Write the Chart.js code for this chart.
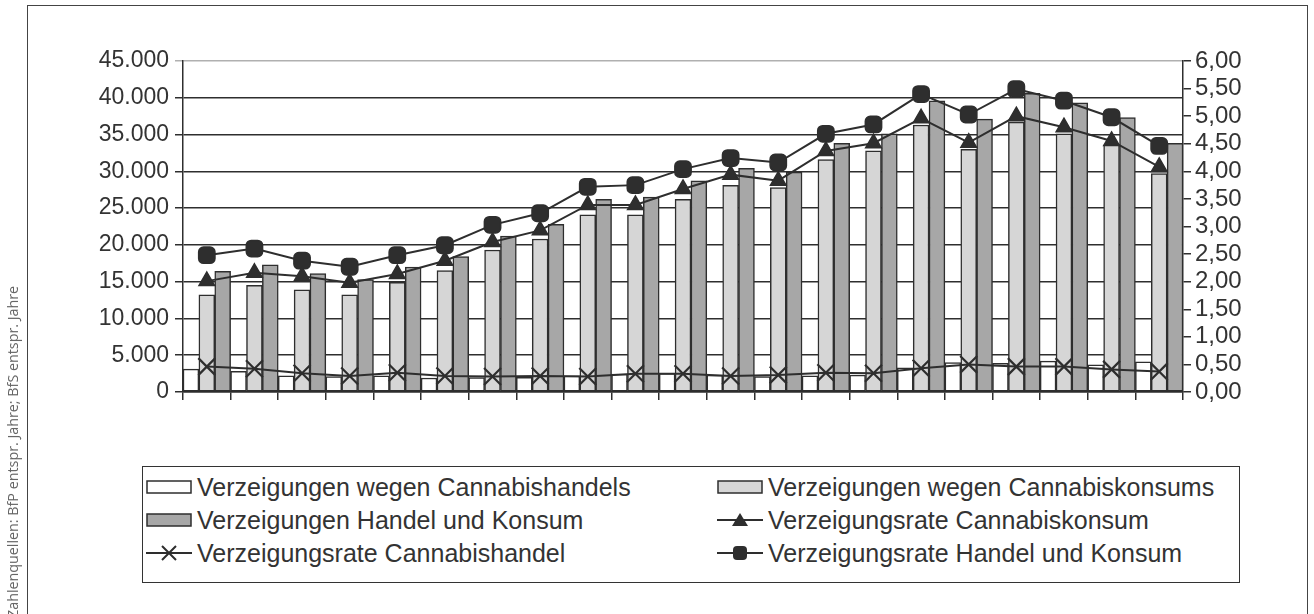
<!DOCTYPE html>
<html>
<head>
<meta charset="utf-8">
<script src="https://cdn.jsdelivr.net/npm/chart.js@4.4.1/dist/chart.umd.min.js"></script>
<style>
html,body{margin:0;padding:0;background:#fff;width:1314px;height:614px;overflow:hidden;position:relative;font-family:"Liberation Sans",Arial,sans-serif;}
#frame{position:absolute;left:27px;top:5px;width:1281px;height:640px;border:1.5px solid #444;box-sizing:border-box;}
#chart{position:absolute;left:0;top:0;}
#legend{position:absolute;left:142px;top:466px;width:1098px;height:117px;border:1.5px solid #333;box-sizing:border-box;background:#fff;}
.item{position:absolute;height:30px;display:flex;align-items:center;font-size:25px;color:#333;white-space:nowrap;}
.item svg{margin-right:5px;flex:none;}
#source{position:absolute;left:3px;top:618px;transform-origin:0 0;transform:rotate(-90deg);font-family:"Open Sans","Noto Sans",sans-serif;font-size:14.3px;line-height:19px;color:#666;white-space:nowrap;}
</style>
</head>
<body>
<div id="frame"></div>
<canvas id="chart" width="1314" height="614"></canvas>
<div id="legend"></div>
<div id="source">Zahlenquellen: BfP entspr. Jahre; BfS entspr. Jahre</div>
<script>
// ---- data ----
const categories = ['1','2','3','4','5','6','7','8','9','10','11','12','13','14','15','16','17','18','19','20','21'];
const handel  = [3100, 2800, 2200, 2100, 2200, 1900, 1950, 2000, 2200, 2450, 2550, 2300, 2100, 2200, 2300, 3300, 4000, 3900, 4200, 3700, 4100];
const konsum  = [13200, 14500, 13900, 13200, 14900, 16500, 19300, 20800, 24100, 24100, 26200, 28100, 27800, 31600, 32800, 36300, 33000, 36700, 35100, 33600, 29700];
const gesamt  = [16400, 17300, 16100, 15300, 17000, 18400, 21200, 22800, 26200, 26500, 28700, 30400, 29900, 33800, 35100, 39600, 37100, 40600, 39300, 37300, 33800];
const rateKonsum = [2.01, 2.16, 2.10, 1.98, 2.14, 2.38, 2.72, 2.93, 3.39, 3.39, 3.68, 3.94, 3.83, 4.37, 4.51, 4.96, 4.52, 5.00, 4.80, 4.55, 4.08];
const rateHandel = [0.46, 0.42, 0.34, 0.29, 0.35, 0.29, 0.28, 0.29, 0.28, 0.33, 0.33, 0.29, 0.31, 0.35, 0.34, 0.43, 0.50, 0.46, 0.46, 0.41, 0.37];
const rateGesamt = [2.48, 2.60, 2.38, 2.27, 2.48, 2.66, 3.03, 3.24, 3.72, 3.75, 4.04, 4.24, 4.16, 4.68, 4.85, 5.40, 5.03, 5.49, 5.28, 4.98, 4.46];
const leftTickLabels  = ['0','5.000','10.000','15.000','20.000','25.000','30.000','35.000','40.000','45.000'];
const rightTickLabels = ['0,00','0,50','1,00','1,50','2,00','2,50','3,00','3,50','4,00','4,50','5,00','5,50','6,00'];
const seriesNames = [
  'Verzeigungen wegen Cannabishandels',
  'Verzeigungen wegen Cannabiskonsums',
  'Verzeigungen Handel und Konsum',
  'Verzeigungsrate Cannabiskonsum',
  'Verzeigungsrate Cannabishandel',
  'Verzeigungsrate Handel und Konsum'
];

const INK = '#2e2e2e';
const FONT = {family:'"Liberation Sans", Arial, sans-serif', size:23};

const barBase = {type:'bar', yAxisID:'y', barPercentage:1, categoryPercentage:1, borderWidth:1.5, borderColor:INK, order:2, borderSkipped:false};
const lineBase = {type:'line', yAxisID:'y2', borderColor:INK, borderWidth:2, tension:0, order:1,
  pointBackgroundColor:INK, pointBorderColor:INK, pointBorderWidth:1.5};

new Chart(document.getElementById('chart'), {
  data: {
    labels: categories,
    datasets: [
      Object.assign({}, barBase, {label:seriesNames[0], data:handel, backgroundColor:'#ffffff'}),
      Object.assign({}, barBase, {label:seriesNames[1], data:konsum, backgroundColor:'#d6d6d6'}),
      Object.assign({}, barBase, {label:seriesNames[2], data:gesamt, backgroundColor:'#a7a7a7'}),
      Object.assign({}, lineBase, {label:seriesNames[3], data:rateKonsum, pointStyle:'triangle', pointRadius:9}),
      Object.assign({}, lineBase, {label:seriesNames[4], data:rateHandel, pointStyle:'crossRot', pointRadius:12, pointBorderWidth:2.2}),
      Object.assign({}, lineBase, {label:seriesNames[5], data:rateGesamt, pointStyle:'rectRounded', pointRadius:9.5})
    ]
  },
  options: {
    responsive:false, animation:false, devicePixelRatio:1,
    layout:{padding:{top:61, bottom:212, left:0, right:0}},
    plugins:{legend:{display:false}, tooltip:{enabled:false}},
    scales:{
      x:{
        type:'category', offset:true,
        grid:{offset:true, drawOnChartArea:false, drawTicks:true, tickLength:8, color:INK, lineWidth:1.5},
        border:{color:INK, width:1.5},
        ticks:{display:false},
        afterFit(s){ s.height = 10; }
      },
      y:{
        position:'left', min:0, max:45000,
        ticks:{stepSize:5000, autoSkip:false, callback:(v,i)=>leftTickLabels[i], font:FONT, color:'#333', padding:6},
        grid:{color:(c)=> (c.tick && c.tick.value===45000) ? '#b0b0b0' : INK, lineWidth:1.5, tickLength:8},
        border:{color:INK, width:1.5},
        afterFit(s){ s.width = 183; }
      },
      y2:{
        position:'right', min:0, max:6,
        ticks:{stepSize:0.5, autoSkip:false, callback:(v,i)=>rightTickLabels[i], font:{family:FONT.family, size:24}, color:'#333', padding:4},
        grid:{drawOnChartArea:false, tickLength:8, color:INK, lineWidth:1.5},
        border:{color:INK, width:1.5},
        afterFit(s){ s.width = 131; }
      }
    }
  }
});

// ---- HTML legend ----
function symbol(kind, fill){
  if (kind === 'bar') {
    return '<svg width="46" height="16"><rect x="1" y="2" width="44" height="12" fill="'+fill+'" stroke="'+INK+'" stroke-width="1.5"/></svg>';
  }
  let m = '';
  if (kind === 'triangle') m = '<polygon points="23,1 31,14 15,14" fill="'+INK+'"/>';
  if (kind === 'cross') m = '<path d="M16,1 L30,15 M30,1 L16,15" stroke="'+INK+'" stroke-width="2"/>';
  if (kind === 'square') m = '<rect x="16" y="1" width="14" height="14" rx="4" fill="'+INK+'"/>';
  return '<svg width="46" height="16"><line x1="0" y1="8" x2="46" y2="8" stroke="'+INK+'" stroke-width="2"/>'+m+'</svg>';
}
const legendItems = [
  {name:seriesNames[0], kind:'bar', fill:'#ffffff', col:0, row:0},
  {name:seriesNames[1], kind:'bar', fill:'#d6d6d6', col:1, row:0},
  {name:seriesNames[2], kind:'bar', fill:'#a7a7a7', col:0, row:1},
  {name:seriesNames[3], kind:'triangle', col:1, row:1},
  {name:seriesNames[4], kind:'cross', col:0, row:2},
  {name:seriesNames[5], kind:'square', col:1, row:2}
];
const colX = [3, 574];
const rowY = [5, 38, 71];
const lg = document.getElementById('legend');
legendItems.forEach(it=>{
  const d = document.createElement('div');
  d.className = 'item';
  d.style.left = colX[it.col]+'px';
  d.style.top = rowY[it.row]+'px';
  d.innerHTML = symbol(it.kind, it.fill) + '<span>'+it.name+'</span>';
  lg.appendChild(d);
});
</script>
</body>
</html>
